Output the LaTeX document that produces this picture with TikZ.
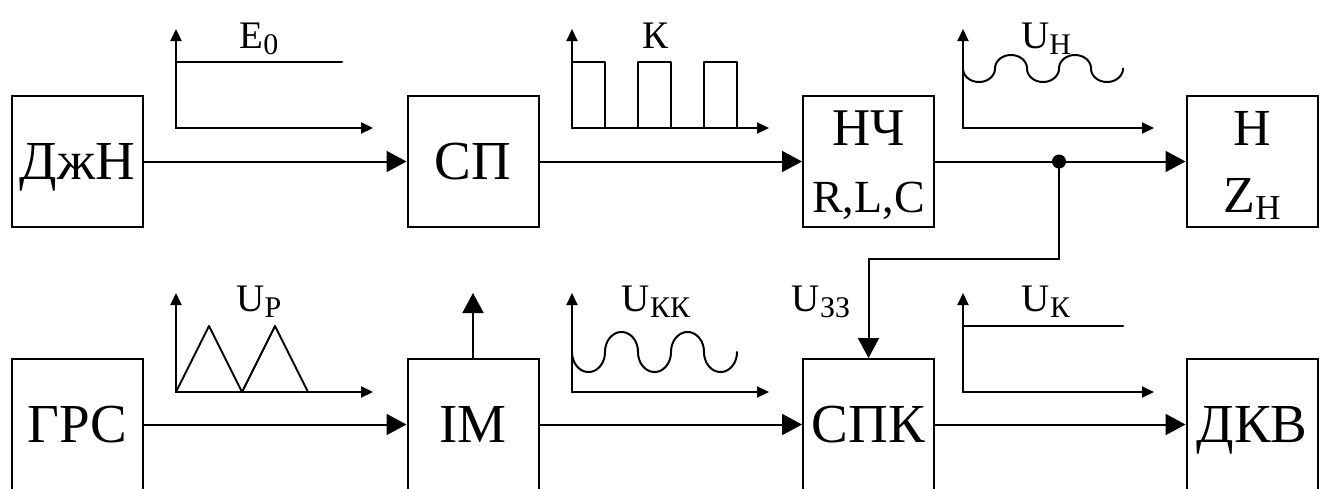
\documentclass[tikz,border=0pt]{standalone}
\usepackage{fontspec}
\setmainfont{Liberation Serif}
\usetikzlibrary{arrows.meta}
\newcommand\lab[2]{{\fontsize{39}{39}\selectfont #1\raisebox{-6pt}{\fontsize{30}{30}\selectfont #2}}}
\newcommand\bsub[1]{\raisebox{-7pt}{\fontsize{35}{35}\selectfont #1}}
\begin{document}
\begin{tikzpicture}[x=1pt,y=-1pt,
  blk/.style={draw, line width=2pt, minimum width=131pt, minimum height=131pt, inner sep=0pt,
              font=\fontsize{55}{55}\selectfont, text height=36pt, text depth=0pt},
  conn/.style={line width=2pt, -{Triangle[length=20pt,width=21pt]}},
  axes/.style={line width=2pt, {Triangle[length=12pt,width=11pt]}-{Triangle[length=12pt,width=11pt]}},
  sig/.style={line width=2pt, line cap=round, line join=round},
  lbl/.style={anchor=base, inner sep=0pt},
  btxt/.style={anchor=base, inner sep=0pt}
]
\useasboundingbox (0,0) rectangle (1338,488);
% blocks top row
\node[blk] (djn) at (77.5,161.5) {ДжН};
\node[blk] (sp)  at (473,161.5) {СП};
\node[blk] (nch) at (868.5,161.5) {};
\node[blk] (nav) at (1252,161.5) {};
\node[btxt, font=\fontsize{53}{53}\selectfont] (nchA) at (868.5,145) {НЧ};
\node[btxt, font=\fontsize{46}{46}\selectfont] (nchB) at (868.5,212) {R,L,C};
\node[btxt, font=\fontsize{52}{52}\selectfont] (navA) at (1252,145) {Н};
\node[btxt, font=\fontsize{52}{52}\selectfont] (navB) at (1252,212) {Z\bsub{Н}};
% blocks bottom row
\node[blk] (grs) at (77.5,424.5) {ГРС};
\node[blk] (im)  at (473,424.5) {ІМ};
\node[blk] (spk) at (868.5,424.5) {СПК};
\node[blk] (dkv) at (1252,424.5) {ДКВ};
% connectors
\draw[conn] (djn) -- (sp);
\draw[conn] (sp) -- (nch);
\draw[conn] (nch) -- (nav);
\draw[conn] (grs) -- (im);
\draw[conn] (im) -- (spk);
\draw[conn] (spk) -- (dkv);
\coordinate (j) at (1059,161.5);
\coordinate (fb) at (1059,259);
\fill (j) circle[radius=7pt];
\draw[conn] (j) -- (fb) -| (spk);
\coordinate (imout) at (473,293);
\draw[conn] (im) -- (imout);
% signal E0
\draw[axes] (176,29) -- (176,128) -- (373,128);
\draw[sig] (176,62) -- (342,62);
\node[lbl] (lE) at (259,48) {\lab{E}{0}};
% signal K
\draw[axes] (572,29) -- (572,128) -- (769,128);
\draw[sig] (572,62) -- (605,62) -- (605,128);
\draw[sig] (638,128) -- (638,62) -- (671,62) -- (671,128);
\draw[sig] (704,128) -- (704,62) -- (737,62) -- (737,128);
\node[lbl] (lK) at (655,48) {\lab{К}{}};
% signal UH
\draw[axes] (963,29) -- (963,128) -- (1154,128);
\foreach \k in {0,...,4}
  \draw[sig] plot[domain=0:180, samples=37, variable=\u]
    ({963+32*\k+16*(1-cos(\u))}, {68.5+13.5*cos(180*\k)*sin(\u)});
\node[lbl] (lUH) at (1046,48) {\lab{U}{Н}};
% signal UP
\draw[axes] (176,293) -- (176,392) -- (373,392);
\draw[sig] (176,392) -- (209,326) -- (242,392) -- (275,326) -- (308,392);
\node[lbl] (lUP) at (259,311) {\lab{U}{Р}};
% signal UKK
\draw[axes] (572,293) -- (572,392) -- (769,392);
\foreach \k in {0,...,4}
  \draw[sig] plot[domain=0:180, samples=37, variable=\u]
    ({572+33*\k+16.5*(1-cos(\u))}, {352+20*cos(180*\k)*sin(\u)});
\node[lbl] (lUKK) at (656,311) {\lab{U}{КК}};
% U33 label
\node[lbl] (lU33) at (821,311) {\lab{U}{ЗЗ}};
% signal UK
\draw[axes] (963,293) -- (963,392) -- (1154,392);
\draw[sig] (963,326) -- (1123,326);
\node[lbl] (lUK) at (1046,311) {\lab{U}{К}};
\end{tikzpicture}
\end{document}
